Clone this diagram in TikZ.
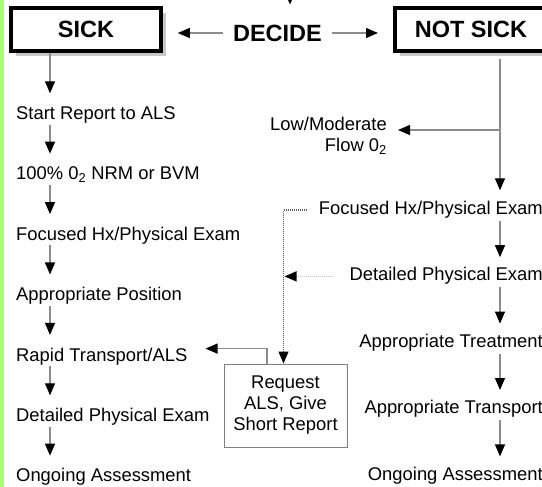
\documentclass[tikz,border=0pt]{standalone}
\usepackage{fontspec}
\setmainfont{Liberation Sans}
\usepackage{tikz}
\usetikzlibrary{arrows.meta, positioning, shadows}
\usepackage{xcolor}
\definecolor{linegray}{HTML}{8C8C8C}
\definecolor{shadowgray}{HTML}{C8C8C8}
\definecolor{boxgray}{HTML}{808080}
\definecolor{dotgray}{HTML}{606060}
\definecolor{lightdot}{HTML}{C4C4C4}
\definecolor{bargreen}{HTML}{A8FF70}

\begin{document}
\begin{tikzpicture}[
x=1pt, y=-1pt,
node distance=43pt,
font=\fontsize{18.4}{21}\selectfont,
decision/.style={draw, line width=3.5pt, fill=white,
minimum width=150pt,
minimum height=43pt,
inner sep=0pt,
font=\bfseries\fontsize{23.5}{28}\selectfont,
drop shadow={shadow xshift=5pt, shadow yshift=-5.5pt, fill=shadowgray, opacity=1}},
stepbox/.style={inner sep=0pt, text height=13pt, text depth=4pt},
arrow/.style={-{Triangle[length=12pt, width=10pt, color=black]}, line width=1.2pt, draw=linegray}
]

\useasboundingbox (0,0) rectangle (542,487);
\fill[bargreen] (0,0) rectangle (3.5,487);

% decision row
\node[decision] (sick) at (86,29.5) {SICK};
\node[decision, minimum width=152.5pt] (notsick) at (471,29.5) {NOT SICK};
\node[font=\bfseries\fontsize{23.5}{28}\selectfont, inner xsep=10pt, inner ysep=0pt] (decide) at (277.5,33) {DECIDE};

% sick column
\node[stepbox, anchor=west] (lstart) at (16,115) {Start Report to ALS};
\node[stepbox, below=of lstart.south west, anchor=north west] (loxygen) {100\% 0\textsubscript{2} NRM or BVM};
\node[stepbox, below=of loxygen.south west, anchor=north west] (lfocus) {Focused Hx/Physical Exam};
\node[stepbox, below=of lfocus.south west, anchor=north west] (lposition) {Appropriate Position};
\node[stepbox, below=of lposition.south west, anchor=north west] (lrapid) {Rapid Transport/ALS};
\node[stepbox, below=of lrapid.south west, anchor=north west] (ldetail) {Detailed Physical Exam};
\node[stepbox, below=of ldetail.south west, anchor=north west] (longoing) {Ongoing Assessment};

% not sick column
\node[align=right, anchor=east, inner sep=0pt] (lowflow) at (387,136) {Low/Moderate\\Flow 0\textsubscript{2}};
\node[stepbox, anchor=east] (rfocus) at (543,210) {Focused Hx/Physical Exam};
\node[stepbox, below=49pt of rfocus.south east, anchor=north east] (rdetail) {Detailed Physical Exam};
\node[stepbox, below=49pt of rdetail.south east, anchor=north east] (rtreat) {Appropriate Treatment};
\node[stepbox, below=49pt of rtreat.south east, anchor=north east] (rtransport) {Appropriate Transport};
\node[stepbox, below=49pt of rtransport.south east, anchor=north east] (rongoing) {Ongoing Assessment};

\node[draw=boxgray, line width=1pt, minimum width=123pt, minimum height=83pt, align=center, inner sep=0pt] (request) at (285.5,405.5) {Request\\ALS, Give\\Short Report};

\coordinate (lcol) at (50,0);
\coordinate (rcol) at (500,0);
\coordinate (branch) at (500,130);
\coordinate (incoming) at (290,-40);
\coordinate (drop) at ([xshift=-2pt]request.north);

% connectors
\draw[arrow, shorten >=20pt] (incoming) -- (incoming |- decide.north);
\draw[arrow, shorten >=15pt] (decide.west) -- (decide.west -| sick.east);
\draw[arrow, shorten >=15pt] (decide.east) -- (decide.east -| notsick.west);

\draw[arrow, shorten >=13pt] (sick.south -| lcol) -- (lstart.north -| lcol);
\foreach \a/\b in {lstart/loxygen, loxygen/lfocus, lfocus/lposition, lposition/lrapid, lrapid/ldetail, ldetail/longoing}
\draw[arrow, shorten <=1pt, shorten >=13pt] (\a.south -| lcol) -- (\b.north -| lcol);

\draw[arrow, shorten <=6pt, shorten >=11pt] (notsick.south -| rcol) -- (rfocus.north -| rcol);
\draw[arrow, shorten >=11pt] (branch) -- (branch -| lowflow.east);
\foreach \a/\b in {rfocus/rdetail, rdetail/rtreat, rtreat/rtransport, rtransport/rongoing}
\draw[arrow, shorten <=2pt, shorten >=10.5pt] (\a.south -| rcol) -- (\b.north -| rcol);

\draw[arrow] ([xshift=-18.5pt]request.north) |- ([xshift=18pt, yshift=8pt]lrapid.east);
\draw[arrow, draw=dotgray, dash pattern=on 1pt off 1pt] ([xshift=-12pt]rfocus.west) -| (drop);
\draw[arrow, draw=lightdot, dash pattern=on 1pt off 1pt, shorten <=16pt, shorten >=1pt] (rdetail.west) -- (rdetail.west -| drop);

\end{tikzpicture}
\end{document}
